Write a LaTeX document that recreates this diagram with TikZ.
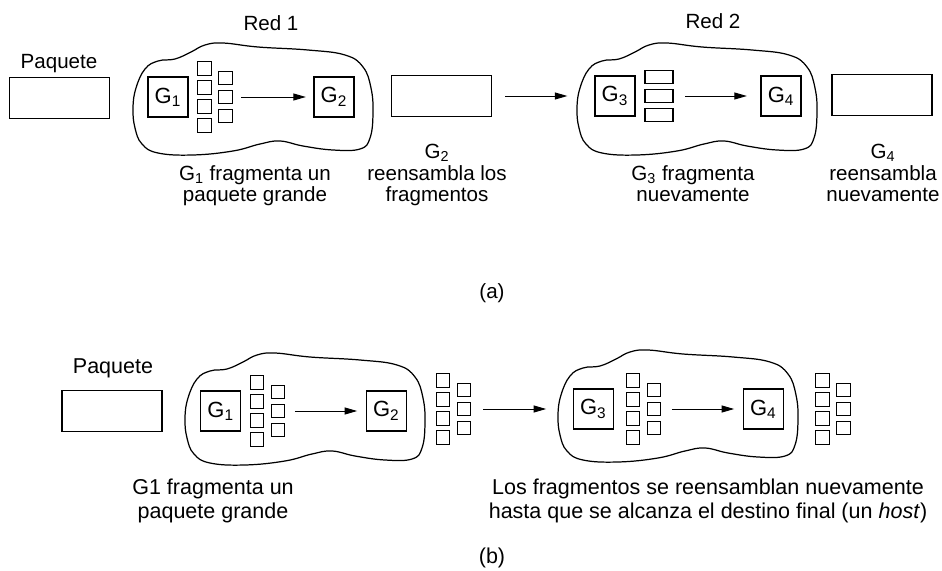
\documentclass[tikz,border=0pt]{standalone}
\usepackage{fontspec}
\setmainfont{Liberation Sans}
\usetikzlibrary{arrows.meta}

\tikzset{
	gwbox/.style={draw, line width=0.75pt, inner sep=0pt, minimum width=8mm, minimum height=8mm,
		font=\fontsize{12.5}{14}\selectfont},
	pktbox/.style={draw, line width=0.75pt, inner sep=0pt, minimum width=20mm, minimum height=8.2mm},
	fragbox/.style={draw, line width=0.6pt, inner sep=0pt, minimum size=2.7mm},
	fragrect/.style={draw, line width=0.6pt, inner sep=0pt, minimum width=5.6mm, minimum height=2.7mm},
	cloudline/.style={line width=0.7pt},
	flow/.style={-{Triangle[length=2.5mm, width=1.4mm]}, line width=0.55pt},
	txta/.style={inner sep=0pt, anchor=base, align=center, font=\fontsize{11.7}{12.5}\selectfont},
	txtb/.style={inner sep=0pt, anchor=base, align=center, font=\fontsize{12.24}{13.1}\selectfont}
}

% two columns of fragments: name, x, y
\newcommand{\fragstack}[3]{%
	\foreach \k in {1,...,4}
		\node[fragbox] (#1-a\k) at ({#2-10.5},{#3+19*(\k-2.5)}) {};
	\foreach \k in {1,...,3}
		\node[fragbox] (#1-b\k) at ({#2+10.5},{#3+19*(\k-2)}) {};
}

% outline of a network
\newcommand{\netcloud}[2]{%
	\draw[cloudline, shift={(#1,#2)}] plot[smooth cycle, tension=0.7] coordinates {
		(0,65) (2,85) (9,101) (25,110) (60,112) (100,108) (127,101) (147,98)
		(170,103) (200,107) (227,106) (237,95) (240,70) (238,45) (230,24)
		(212,12) (175,7) (125,4) (90,0) (72,2) (58,9) (42,16) (25,18) (12,26) (3,45)};
}

\begin{document}
\begin{tikzpicture}[x=0.2mm, y=-0.2mm]
	\useasboundingbox (0,0) rectangle (942,571);

	% (a) transparent fragmentation
	\node[txta] (paqA) at (59,69) {Paquete};
	\node[pktbox] (pktA) at (59.5,98) {};

	\netcloud{133}{43}
	\node[txta] (redA1) at (271,31) {Red 1};
	\node[gwbox] (gA1) at (168,97) {G\textsubscript{1}};
	\fragstack{fA1}{215}{97}
	\node[gwbox] (gA2) at (334,97) {G\textsubscript{2}};
	\draw[flow, shorten <=1.7mm, shorten >=1.5mm] (fA1-b2) -- (gA2);

	\node[pktbox] (pktA2) at (441.5,96) {};

	\netcloud{577}{43}
	\node[txta] (redA2) at (713,29) {Red 2};
	\node[gwbox] (gA3) at (615,96) {G\textsubscript{3}};
	\node[fragrect] (fA3-1) at (659,77) {};
	\node[fragrect] (fA3-2) at (659,96) {};
	\node[fragrect] (fA3-3) at (659,115) {};
	\node[gwbox] (gA4) at (781,96) {G\textsubscript{4}};
	\draw[flow, shorten <=2.6mm, shorten >=5.4mm] (pktA2) -- (gA3);
	\draw[flow, shorten <=2.3mm, shorten >=2.7mm] (fA3-2) -- (gA4);

	\node[pktbox] (pktA4) at (882,95) {};

	% captions: y is the baseline of the last line
	\node[txta] (capA1) at (255,202) {G\textsubscript{1} fragmenta un\\paquete grande};
	\node[txta] (capA2) at (437,202) {G\textsubscript{2}\\reensambla los\\fragmentos};
	\node[txta] (capA3) at (693,202) {G\textsubscript{3} fragmenta\\nuevamente};
	\node[txta] (capA4) at (883,202) {G\textsubscript{4}\\reensambla\\nuevamente};
	\node[txta] (labA) at (492,298) {(a)};

	% (b) non-transparent fragmentation
	\node[txtb] (paqB) at (113,373) {Paquete};
	\node[pktbox] (pktB) at (112,411) {};

	\netcloud{185}{353}
	\node[gwbox] (gB1) at (220.7,411) {G\textsubscript{1}};
	\fragstack{fB1}{267.5}{411}
	\node[gwbox] (gB2) at (386.3,411) {G\textsubscript{2}};
	\draw[flow, shorten <=1.9mm, shorten >=1.7mm] (fB1-b2) -- (gB2);

	\fragstack{fB2}{453.5}{409}

	\netcloud{558}{350}
	\node[gwbox] (gB3) at (593.3,409) {G\textsubscript{3}};
	\fragstack{fB3}{643.7}{409}
	\node[gwbox] (gB4) at (763.3,409) {G\textsubscript{4}};
	\draw[flow, shorten <=2.4mm, shorten >=5.3mm] (fB2-b2) -- (gB3);
	\draw[flow, shorten <=2.1mm, shorten >=1.7mm] (fB3-b2) -- (gB4);

	\fragstack{fB4}{833}{409}

	\node[txtb] (capB1) at (213,518) {G1 fragmenta un\\paquete grande};
	\node[txtb] (capB2) at (708,518) {Los fragmentos se reensamblan nuevamente\\hasta que se alcanza el destino final (un \textit{host})};
	\node[txtb] (labB) at (492,563) {(b)};
\end{tikzpicture}
\end{document}
